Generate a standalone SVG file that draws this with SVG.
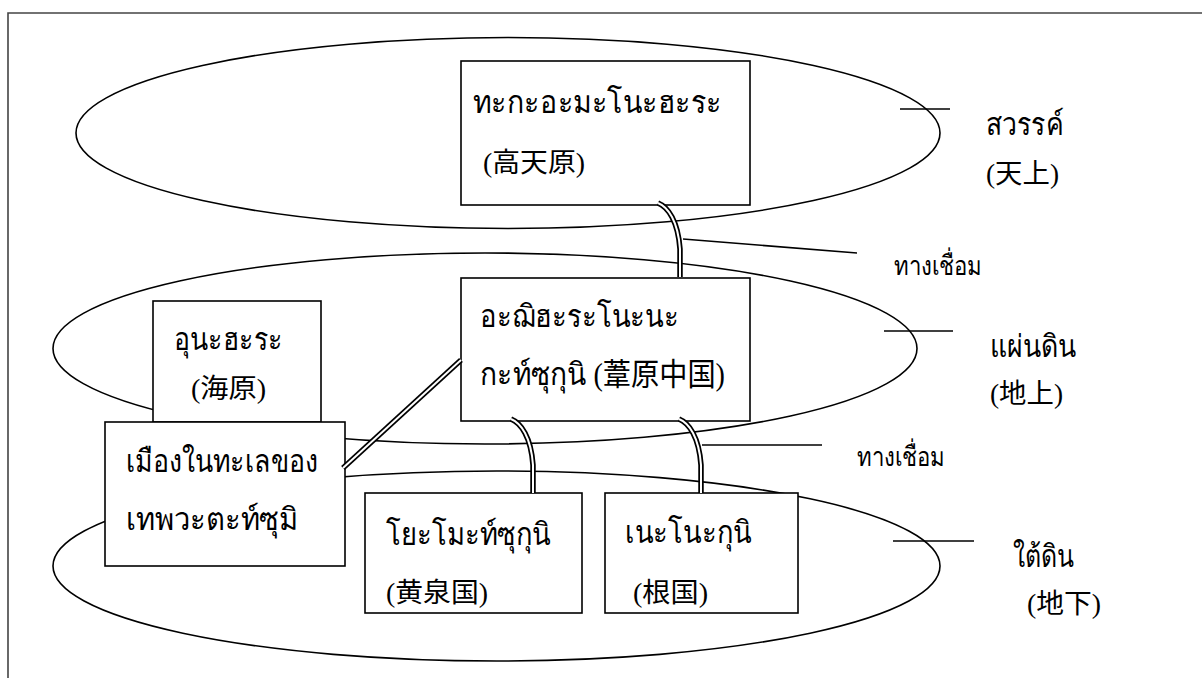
<svg xmlns="http://www.w3.org/2000/svg" xmlns:xlink="http://www.w3.org/1999/xlink" width="1202" height="678" viewBox="0 0 1202 678">
<style>
.frame{fill:none;stroke:#444;stroke-width:1.6}
.ell{fill:none;stroke:#000;stroke-width:1.6}
.box{fill:#fff;stroke:#000;stroke-width:1.6}
.tick{stroke:#000;stroke-width:1.6;fill:none}
.outer{fill:none;stroke:#000;stroke-width:5.5}
.inner{fill:none;stroke:#fff;stroke-width:2}
.t{font-family:"Liberation Serif","Noto Sans CJK JP",serif;font-size:31px;fill:#000}
.c{font-family:"Liberation Serif","Noto Sans CJK JP",serif;font-size:27px;fill:#000}
.s{font-family:"Liberation Serif","Noto Sans CJK JP",serif;font-size:27px;fill:#000}
</style>
<defs>
<path id="p1" d="M658,203 C668,207 678,221 680,249 L680,277"/>
<path id="p2" d="M461,360 L343,468"/>
<path id="p3" d="M511,419 C521,423 531,437 533,465 L533,493"/>
<path id="p4" d="M679,419 C689,423 699,437 701,465 L701,493"/>
</defs>
<rect x="0" y="0" width="1202" height="678" fill="#fff"/>
<path class="frame" d="M8,690 L8,13 L1210,13"/>
<g id="realms">
<ellipse class="ell" cx="508" cy="133" rx="432" ry="95.5"/>
<ellipse class="ell" cx="485" cy="348.5" rx="432" ry="95.5"/>
<ellipse class="ell" cx="496.5" cy="566" rx="443.5" ry="95"/>
</g>
<g id="node-takama">
<rect class="box" x="461" y="61" width="289" height="144"/>
<text class="t" x="473" y="113" textLength="249" lengthAdjust="spacingAndGlyphs">ทะกะอะมะโนะฮะระ</text>
<text class="c" x="483" y="172" textLength="102" lengthAdjust="spacingAndGlyphs">(高天原)</text>
</g>
<g id="node-ashihara">
<rect class="box" x="461" y="278" width="289" height="143"/>
<text class="t" x="480" y="327" textLength="199" lengthAdjust="spacingAndGlyphs">อะฌิฮะระโนะนะ</text>
<text class="t" x="480" y="385" textLength="245" lengthAdjust="spacingAndGlyphs">กะท์ซุกุนิ (葦原中国)</text>
</g>
<g id="node-unahara">
<rect class="box" x="153" y="301" width="168" height="121"/>
<text class="t" x="174" y="350" textLength="109" lengthAdjust="spacingAndGlyphs">อุนะฮะระ</text>
<text class="c" x="191" y="398" textLength="75" lengthAdjust="spacingAndGlyphs">(海原)</text>
</g>
<g id="node-watatsumi">
<rect class="box" x="105" y="422" width="240" height="144"/>
<text class="t" x="126" y="472" textLength="192" lengthAdjust="spacingAndGlyphs">เมืองในทะเลของ</text>
<text class="t" x="126" y="530" textLength="172" lengthAdjust="spacingAndGlyphs">เทพวะตะท์ซุมิ</text>
</g>
<g id="node-yomotsukuni">
<rect class="box" x="365" y="493" width="217" height="120"/>
<text class="t" x="386" y="545" textLength="165" lengthAdjust="spacingAndGlyphs">โยะโมะท์ซุกุนิ</text>
<text class="c" x="386" y="602" textLength="102" lengthAdjust="spacingAndGlyphs">(黄泉国)</text>
</g>
<g id="node-nenokuni">
<rect class="box" x="605" y="493" width="193" height="120"/>
<text class="t" x="625" y="543" textLength="127" lengthAdjust="spacingAndGlyphs">เนะโนะกุนิ</text>
<text class="c" x="633" y="602" textLength="75" lengthAdjust="spacingAndGlyphs">(根国)</text>
</g>
<g id="connectors">
<use xlink:href="#p1" class="outer"/><use xlink:href="#p1" class="inner"/>
<use xlink:href="#p2" class="outer"/><use xlink:href="#p2" class="inner"/>
<use xlink:href="#p3" class="outer"/><use xlink:href="#p3" class="inner"/>
<use xlink:href="#p4" class="outer"/><use xlink:href="#p4" class="inner"/>
<line class="tick" x1="683" y1="239" x2="857" y2="253"/>
<line class="tick" x1="702" y1="445" x2="822" y2="445"/>
<line class="tick" x1="900" y1="109" x2="950" y2="109"/>
<line class="tick" x1="884" y1="331" x2="953" y2="331"/>
<line class="tick" x1="893" y1="541" x2="974" y2="541"/>
</g>
<g id="labels">
<text class="t" x="986" y="135" textLength="78" lengthAdjust="spacingAndGlyphs">สวรรค์</text>
<text class="c" x="986" y="183" textLength="73" lengthAdjust="spacingAndGlyphs">(天上)</text>
<text class="s" x="894" y="275" textLength="88" lengthAdjust="spacingAndGlyphs">ทางเชื่อม</text>
<text class="t" x="990" y="357" textLength="86" lengthAdjust="spacingAndGlyphs">แผ่นดิน</text>
<text class="c" x="990" y="403" textLength="73" lengthAdjust="spacingAndGlyphs">(地上)</text>
<text class="s" x="857" y="466" textLength="88" lengthAdjust="spacingAndGlyphs">ทางเชื่อม</text>
<text class="t" x="1013" y="567" textLength="61" lengthAdjust="spacingAndGlyphs">ใต้ดิน</text>
<text class="c" x="1027" y="613" textLength="74" lengthAdjust="spacingAndGlyphs">(地下)</text>
</g>
</svg>
